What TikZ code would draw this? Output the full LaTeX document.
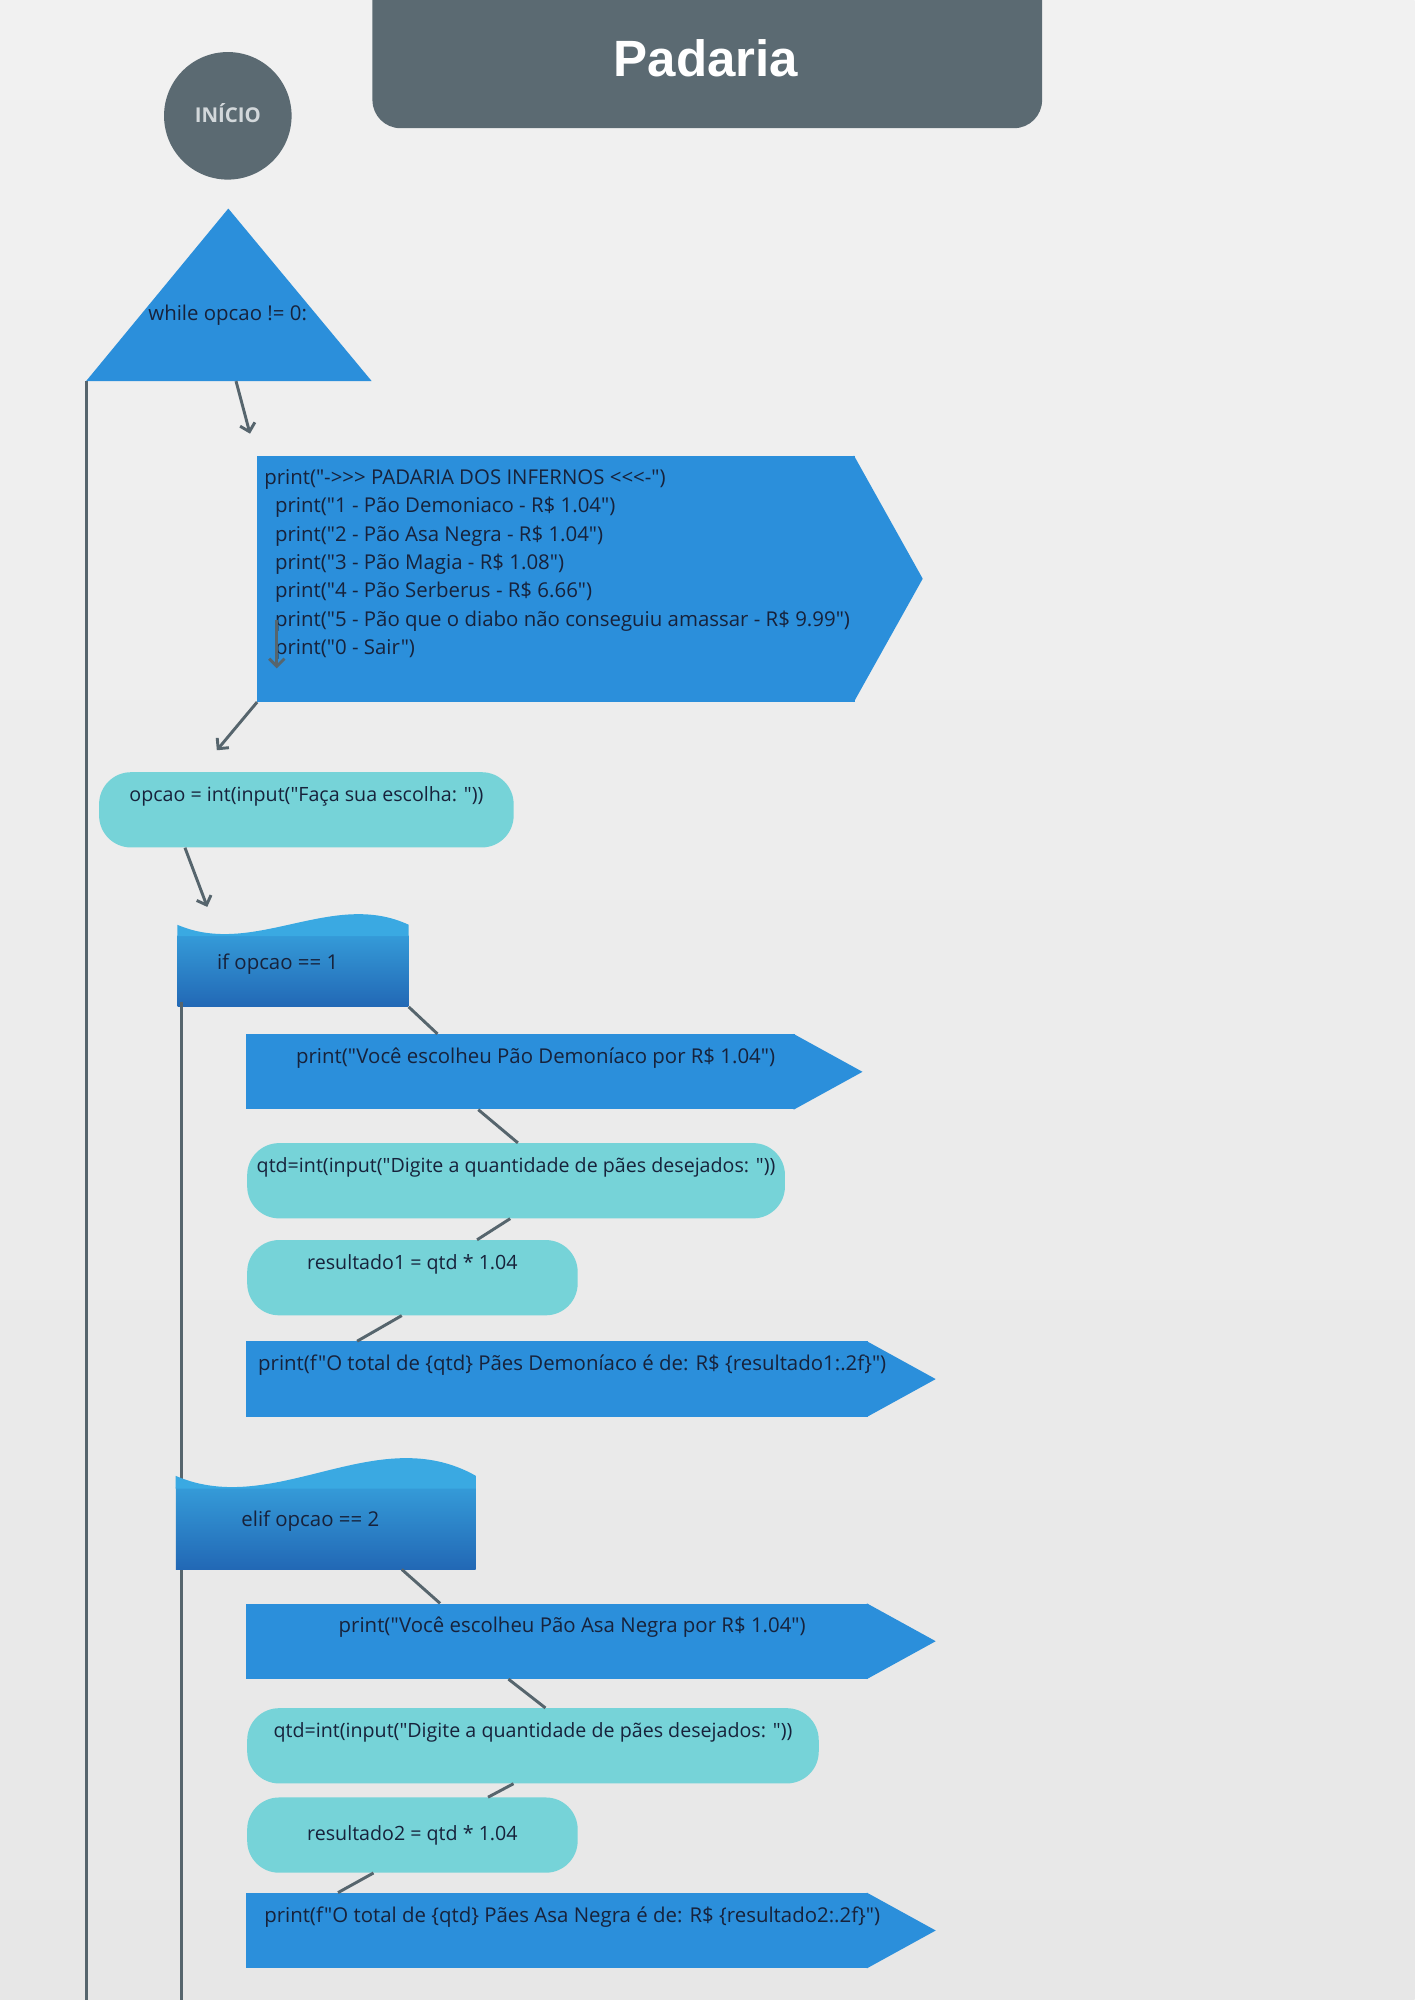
\documentclass[tikz,border=0pt]{standalone}
\usepackage{fontspec}
\setmainfont{Open Sans}[Ligatures=TeXOff]
\newfontfamily\titlefont{Liberation Sans}[Ligatures=TeXOff]
\usetikzlibrary{calc,arrows.meta}

\definecolor{paperhi}{HTML}{F1F1F1}
\definecolor{paperlo}{HTML}{E7E7E7}
\definecolor{slate}{HTML}{5B6A72}
\definecolor{flowblue}{HTML}{2B8FDB}
\definecolor{aqua}{HTML}{76D3D8}
\definecolor{flagtop}{HTML}{3AA9E2}
\definecolor{flagbot}{HTML}{2268B5}
\definecolor{wire}{HTML}{56656D}
\definecolor{ink}{HTML}{17223B}
\definecolor{pale}{HTML}{D3D8DB}

\pgfdeclarelayer{paper}
\pgfdeclarelayer{tips}
\pgfsetlayers{paper,tips,main}

\tikzstyle{terminal} = [circle, fill=slate, minimum size=100pt, inner sep=0pt, text=pale, text height=12pt, text depth=2pt, font=\bfseries\fontsize{16}{19}\selectfont]
\tikzstyle{io} = [rectangle, fill=flowblue, minimum height=59pt, inner xsep=-30pt, inner ysep=0pt, text height=12pt, text depth=25pt, execute at begin node={\hspace*{24pt}}]
\tikzstyle{process} = [rectangle, rounded corners=25pt, fill=aqua, minimum height=59pt, inner xsep=0pt, inner ysep=0pt, text height=12pt, text depth=25pt, font=\fontsize{15.4}{19}\selectfont]
\tikzstyle{decision} = [rectangle, top color=flagtop!78!flagbot, bottom color=flagbot, inner xsep=0pt, inner ysep=0pt, text height=12pt, text depth=15pt, execute at end node={\hspace*{24pt}}]
\tikzstyle{arrow} = [line width=2.3pt, draw=wire, -{Straight Barb[length=6pt,width=12pt]}]
\tikzstyle{link} = [line width=2.3pt, draw=wire]

\begin{document}
\begin{tikzpicture}[x=1pt, y=-1pt, text=ink, font=\fontsize{16}{22.2}\selectfont]

\useasboundingbox (0,0) rectangle (1109,1568);
\begin{pgfonlayer}{paper}
\shade [top color=paperhi, bottom color=paperlo] (0,0) rectangle (1109,1568);
\end{pgfonlayer}

% header
\fill [slate, rounded corners=22pt] (292,-40) rectangle (817,100.5);
\node (title) [text=white, font=\titlefont\bfseries\fontsize{40}{48}\selectfont] at (553.5,45.5) {Padaria};
\node (inicio) [terminal] at (178.6,90.8) {INÍCIO};

% while loop
\coordinate (loopA) at (179,163.5);
\coordinate (loopL) at (67.5,298.8);
\coordinate (loopR) at (291.4,298.8);
\coordinate (loopEnd) at (67.5,1570);
\fill [flowblue] (loopA) -- (loopR) -- (loopL) -- cycle;
\node (loop) at (178.5,247) {while opcao != 0:};
\draw [link] (loopL) -- (loopEnd);

% menu
\node (menu) [io, minimum width=468.4pt, minimum height=193pt, anchor=north west] at (201.6,357) {};
\node (menutxt) [anchor=north west, align=left, inner sep=0pt] at ($(menu.north west)+(5.4,11)$) {print("->>> PADARIA DOS INFERNOS <<<-")\\
\hspace*{8.5pt}print("1 - Pão Demoniaco - R\$ 1.04")\\
\hspace*{8.5pt}print("2 - Pão Asa Negra - R\$ 1.04")\\
\hspace*{8.5pt}print("3 - Pão Magia - R\$ 1.08")\\
\hspace*{8.5pt}print("4 - Pão Serberus - R\$ 6.66")\\
\hspace*{8.5pt}print("5 - Pão que o diabo não conseguiu amassar - R\$ 9.99")\\
\hspace*{8.5pt}print("0 - Sair")};
\coordinate (stray) at (217,486);
\coordinate (strayEnd) at (217,524);
\draw [arrow] (stray) -- (strayEnd);
\draw [arrow] ($(loopL)!0.525!(loopR)$) -- ($(menu.north west)+(-5.6,-17)$);

% input
\node (opcao) [process, minimum width=325pt, anchor=north west] at (77.5,605.2) {opcao = int(input("Faça sua escolha: "))};
\draw [arrow] (menu.south west) -- ($(opcao.north west)+(92.5,-17)$);

% if opcao == 1
\node (if1) [decision, minimum width=181pt, minimum height=56pt, anchor=north west] at (139,733) {if opcao == 1};
\fill [flagtop] ($(if1.north west)+(0,-8)$) .. controls ($(if1.north west)+(60,18)$) and ($(if1.north east)+(-60,-36)$) .. ($(if1.north east)+(0,-8)$) -- ($(if1.north east)+(0,1)$) -- ($(if1.north west)+(0,1)$) -- cycle;
\draw [arrow] ($(opcao.south west)+(67.5,0)$) -- ($(if1.north west)+(23.5,-22)$);
\coordinate (branchEnd) at (142.6,1570);
\draw [link] ($(if1.south west)+(3.6,-4)$) -- (branchEnd);

\node (p1) [io, minimum width=430.2pt, anchor=north west] at (192.6,810.6) {print("Você escolheu Pão Demoníaco por R\$ 1.04")};
\node (qtd1) [process, minimum width=421.6pt, anchor=north west] at (193.6,896) {qtd=int(input("Digite a quantidade de pães desejados: "))};
\node (res1) [process, minimum width=259.1pt, anchor=north west] at (193.6,972) {resultado1 = qtd * 1.04};
\node (p2) [io, minimum width=487.6pt, anchor=north west] at (192.6,1051.5) {print(f"O total de \{qtd\} Pães Demoníaco é de: R\$ \{resultado1:.2f\}")};
\draw [link] (if1.south east) -- ($(p1.north west)+(150.4,0)$);
\draw [link] ($(p1.south west)+(182.4,0)$) -- ($(qtd1.north west)+(212.4,0)$);
\draw [link] ($(qtd1.south west)+(206.4,0)$) -- ($(res1.north west)+(180.4,0)$);
\draw [link] ($(res1.south west)+(121.4,0)$) -- ($(p2.north west)+(87.4,0)$);

% elif opcao == 2
\node (elif2) [decision, minimum width=235pt, minimum height=64pt, anchor=north west] at (137.6,1166) {elif opcao == 2};
\fill [flagtop] ($(elif2.north west)+(0,-9)$) .. controls ($(elif2.north west)+(78,25)$) and ($(elif2.north east)+(-78,-53)$) .. ($(elif2.north east)+(0,-9)$) -- ($(elif2.north east)+(0,1)$) -- ($(elif2.north west)+(0,1)$) -- cycle;

\node (p3) [io, minimum width=487.6pt, anchor=north west] at (192.6,1257) {print("Você escolheu Pão Asa Negra por R\$ 1.04")};
\node (qtd2) [process, minimum width=448.1pt, anchor=north west] at (193.6,1339) {qtd=int(input("Digite a quantidade de pães desejados: "))};
\node (res2) [process, minimum width=259.1pt, text depth=3pt, anchor=north west] at (193.6,1409) {resultado2 = qtd * 1.04};
\node (p4) [io, minimum width=487.6pt, anchor=north west] at (192.6,1483.8) {print(f"O total de \{qtd\} Pães Asa Negra é de: R\$ \{resultado2:.2f\}")};
\draw [link] ($(elif2.south west)+(177.4,0)$) -- ($(p3.north west)+(152.4,0)$);
\draw [link] ($(p3.south west)+(206,0)$) -- ($(qtd2.north west)+(234,0)$);
\draw [link] ($(qtd2.south west)+(209,0)$) -- ($(res2.north west)+(189,0)$);
\draw [link] ($(res2.south west)+(99.2,0)$) -- ($(p4.north west)+(72.4,0)$);

% arrow tips of the output boxes
\begin{pgfonlayer}{tips}
\foreach \nd in {menu,p1,p2,p3,p4}
  \fill [flowblue] ($(\nd.north east)+(-1,0)$) -- ($(\nd.east)+(53,0)$) -- ($(\nd.south east)+(-1,0)$) -- cycle;
\end{pgfonlayer}

\end{tikzpicture}
\end{document}
